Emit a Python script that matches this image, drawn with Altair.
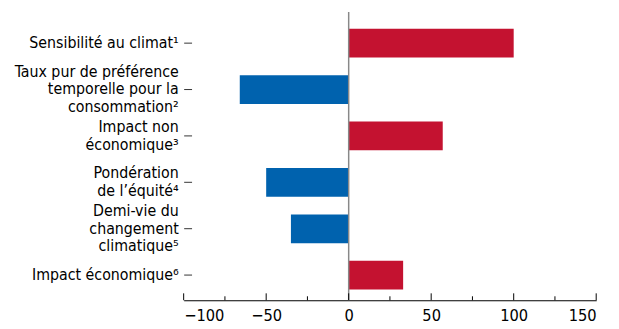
import altair as alt
import pandas as pd

categories = [
    "Sensibilité au climat¹",
    "Taux pur de préférence|temporelle pour la|consommation²",
    "Impact non|économique³",
    "Pondération|de l’équité⁴",
    "Demi-vie du|changement|climatique⁵",
    "Impact économique⁶",
]
values = [100, -66, 57, -50, -35, 33]
major_ticks = [-100, -50, 0, 50, 100, 150]
minor_ticks = [-75, -25, 25, 75, 125]

FONT = "DejaVu Sans Condensed, DejaVu Sans, sans-serif"
FS = 16
LH = 18
W, H = 418, 292

df = pd.DataFrame({"cat": categories, "val": values})
df["sign"] = ["pos" if v >= 0 else "neg" for v in values]
df["nlines"] = [c.count("|") + 1 for c in categories]

xscale = alt.Scale(domain=[-100, 150], nice=False, zero=False)
yscale = alt.Scale(domain=categories, paddingInner=0.38, paddingOuter=0.295, align=0.61)

bars = alt.Chart(df).mark_bar().encode(
    x=alt.X("val:Q", scale=xscale,
            axis=alt.Axis(values=major_ticks, tickSize=0, domain=True, domainColor="#000000",
                          domainWidth=1.2, grid=False, title=None, labelFont=FONT,
                          labelFontSize=16.5, labelColor="#000000", labelPadding=8)),
    x2=alt.datum(0),
    y=alt.Y("cat:N", scale=yscale,
            axis=alt.Axis(title=None, domain=False, tickSize=8, offset=-8, tickColor="#333333",
                          tickWidth=1, labels=False)),
    color=alt.Color("sign:N", scale=alt.Scale(domain=["pos", "neg"], range=["#C41230", "#0062AE"]),
                    legend=None),
)

label_layers = []
for n in (1, 2, 3):
    label_layers.append(
        alt.Chart(df).transform_filter(alt.datum.nlines == n).mark_text(
            align="right", baseline="middle", font=FONT, fontSize=FS, color="#000000",
            lineBreak="|", lineHeight=LH, dy=-(n - 1) * LH / 2,
        ).encode(
            y=alt.Y("cat:N", scale=yscale),
            x=alt.value(-5),
            text="cat:N",
        )
    )

zero = alt.Chart(pd.DataFrame({"z": [0]})).mark_rule(color="#888888", strokeWidth=1.5).encode(
    x=alt.X("z:Q", scale=xscale), y=alt.value(0), y2=alt.value(H)
)

maj = alt.Chart(pd.DataFrame({"t": major_ticks})).mark_rule(color="#000000", strokeWidth=1).encode(
    x=alt.X("t:Q", scale=xscale), y=alt.value(H - 7), y2=alt.value(H)
)
mino = alt.Chart(pd.DataFrame({"t": minor_ticks})).mark_rule(color="#000000", strokeWidth=1).encode(
    x=alt.X("t:Q", scale=xscale), y=alt.value(H - 4), y2=alt.value(H)
)

chart = alt.layer(bars, zero, maj, mino, *label_layers).properties(
    width=W, height=H,
    autosize=alt.AutoSizeParams(type="none"),
    padding={"left": 178, "top": 2, "right": 15, "bottom": 25},
).configure_view(stroke=None)

chart.save("out.html", embed_options={"renderer": "svg", "actions": False})
